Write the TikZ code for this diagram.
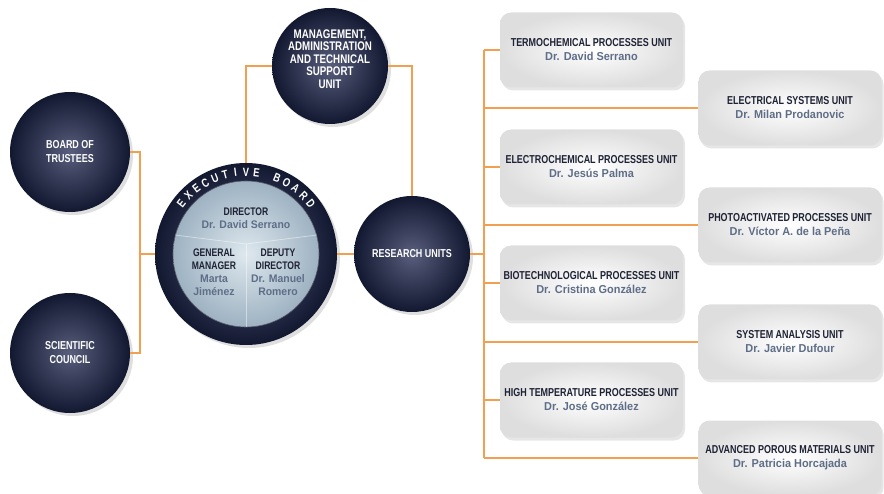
\documentclass[tikz,border=0pt]{standalone}
\usepackage{fontspec}
\setmainfont{Liberation Sans}
\newfontfamily\condfont[FakeStretch=0.78]{Liberation Sans}
\newfontfamily\namefont[FakeStretch=0.95]{Liberation Sans}
\usetikzlibrary{positioning, calc, shadows}

\definecolor{navy}{RGB}{18,24,48}
\definecolor{navylight}{RGB}{88,94,124}
\definecolor{linkorange}{RGB}{240,160,80}
\definecolor{titleblue}{RGB}{30,34,52}
\definecolor{nameblue}{RGB}{95,110,135}
\definecolor{discin}{RGB}{222,232,238}
\definecolor{discout}{RGB}{158,178,194}

\newcommand{\unittitle}[1]{{\condfont\bfseries\color{titleblue}#1}}
\newcommand{\unithead}[1]{{\namefont\bfseries\color{nameblue}#1}}

\begin{document}
\begin{tikzpicture}[
    x=1pt, y=-1pt,
    % styles
    bubble/.style={circle, inner sep=0pt, align=center, text=white,
        font=\condfont\bfseries\fontsize{11.5}{14}\selectfont,
        inner color=navylight, outer color=navy,
        drop shadow={shadow xshift=3pt, shadow yshift=-3pt, opacity=0.25}},
    bubbletext/.style={align=center, inner sep=0pt, text=white,
        font=\condfont\bfseries\fontsize{12.5}{12.5}\selectfont},
    disc/.style={circle, inner sep=0pt, inner color=discin, outer color=discout,
        draw=navy!70, line width=0.6pt},
    unitbox/.style={rounded corners=11pt, minimum width=183pt, minimum height=75pt,
        align=center, inner color=white, outer color=black!13,
        font=\fontsize{11.5}{14}\selectfont,
        drop shadow={shadow xshift=2pt, shadow yshift=-3pt, opacity=0.2}},
    boardtext/.style={align=center, inner sep=0pt, font=\fontsize{11}{13}\selectfont},
    ringletter/.style={inner sep=0pt, text=white, font=\condfont\bfseries\fontsize{12}{12}\selectfont},
    yline/.style={draw=white, opacity=0.45, line width=0.8pt},
    link/.style={draw=linkorange, line width=1.5pt}
]
\useasboundingbox (0,0) rectangle (884,494);

% --- governing bodies ---
\node[bubble, minimum size=120pt] (board) at (70,152) {BOARD OF\\TRUSTEES};
\node[bubble, minimum size=120pt] (council) at (70,353) {SCIENTIFIC\\COUNCIL};
\node[bubble, minimum size=116pt] (mgmt) at (330,66) {};
\node[bubbletext] (mgmt-label) at (330,59)
    {MANAGEMENT,\\ADMINISTRATION\\AND TECHNICAL\\SUPPORT\\UNIT};
\node[bubble, minimum size=116pt] (research) at (412,254) {RESEARCH UNITS};

% --- executive board ---
\node[bubble, minimum size=182pt] (exec) at (246,254) {};
\node[disc, minimum size=146pt] (execin) at (exec.center) {};
\coordinate (ycen) at (246,244);
\draw[yline] (ycen) -- (execin.165);
\draw[yline] (ycen) -- (execin.15);
\draw[yline] (ycen) -- (execin.270);
\foreach \ch/\s in {E/0,X/1,E/2,C/3,U/4,T/5,I/6,V/7,E/8,B/10,O/11,A/12,R/13,D/14}{
    \pgfmathsetmacro{\a}{142-\s*7.43}
    \node[ringletter, rotate=\a-90] (ring-\s) at ([shift={(\a:82pt)}]exec.center) {\ch};
}
\node[boardtext] (dir) at (246,218) {\unittitle{DIRECTOR}\\\unithead{Dr. David Serrano}};
\node[boardtext] (gm) at (214,272) {\unittitle{GENERAL}\\\unittitle{MANAGER}\\\unithead{Marta}\\\unithead{Jiménez}};
\node[boardtext] (dd) at (278,272) {\unittitle{DEPUTY}\\\unittitle{DIRECTOR}\\\unithead{Dr. Manuel}\\\unithead{Romero}};

% --- research units ---
\foreach \id/\xx/\yy/\title/\head in {
    L1/591.5/50/TERMOCHEMICAL PROCESSES UNIT/Dr. David Serrano,
    L2/591.5/167/ELECTROCHEMICAL PROCESSES UNIT/Dr. Jesús Palma,
    L3/591.5/283/BIOTECHNOLOGICAL PROCESSES UNIT/Dr. Cristina González,
    L4/591.5/400/HIGH TEMPERATURE PROCESSES UNIT/Dr. José González,
    R1/790/108/ELECTRICAL SYSTEMS UNIT/Dr. Milan Prodanovic,
    R2/790/225/PHOTOACTIVATED PROCESSES UNIT/Dr. Víctor A. de la Peña,
    R3/790/342/SYSTEM ANALYSIS UNIT/Dr. Javier Dufour,
    R4/790/458/ADVANCED POROUS MATERIALS UNIT/Dr. Patricia Horcajada}
    \node[unitbox] (\id) at (\xx,\yy) {\unittitle{\title}\\\unithead{\head}};

% --- connectors ---
\coordinate (lbus) at (140,254);
\draw[link] (board.east) -| (lbus);
\draw[link] (council.east) -| (lbus);
\draw[link] (lbus) -- (exec.west);
\draw[link] (exec.north) |- (mgmt.west);
\draw[link] (mgmt.east) -| (research.north);
\draw[link] (exec.east) -- (research.west);

\coordinate (rbus) at (484,254);
\draw[link] (research.east) -- (rbus);
\draw[link] (rbus |- L1.west) -- (rbus |- R4.west);
\foreach \id in {L1,L2,L3,L4,R1,R2,R3,R4}
    \draw[link] (rbus |- \id.west) -- (\id.west);

\end{tikzpicture}
\end{document}
